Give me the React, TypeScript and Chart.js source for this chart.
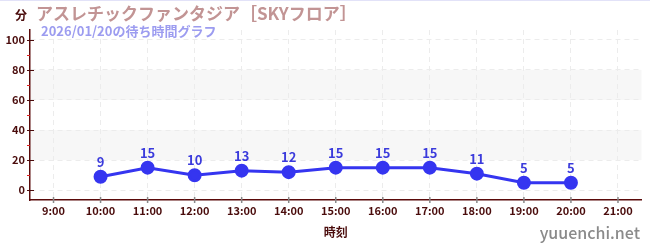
import React, { useEffect, useRef } from "react";
import { Chart, registerables } from "chart.js";

Chart.register(...registerables);

const TITLE = "アスレチックファンタジア［SKYフロア］";
const SUBTITLE = "2026/01/20の待ち時間グラフ";
const Y_UNIT = "分";
const X_TITLE = "時刻";
const WATERMARK = "yuuenchi.net";

const hours: number[] = [10, 11, 12, 13, 14, 15, 16, 17, 18, 19, 20];
const waits: number[] = [9, 15, 10, 13, 12, 15, 15, 15, 11, 5, 5];
const xTickHours: number[] = [9, 10, 11, 12, 13, 14, 15, 16, 17, 18, 19, 20, 21];
const yTickValues: number[] = [0, 20, 40, 60, 80, 100];
const yMinorValues: number[] = [10, 30, 50, 70, 90];
const bandRanges: [number, number][] = [[20, 40], [60, 80]];

const FONT = '"Noto Sans CJK JP", "Noto Sans", sans-serif';
const MAROON = "#4a0c0c";
const BLUE = "#3535f0";

export default function App() {
  const ref = useRef<HTMLCanvasElement | null>(null);

  useEffect(() => {
    if (!ref.current) return;

    const decor = {
      id: "decor",
      beforeDraw(chart: any) {
        const { ctx, chartArea, scales } = chart;
        const y = scales.y;
        ctx.save();
        ctx.fillStyle = "#ffffff";
        ctx.fillRect(0, 0, chart.width, chart.height);
        ctx.fillStyle = "#f7f7f7";
        for (const [a, b] of bandRanges) {
          const top = y.getPixelForValue(b);
          const bot = y.getPixelForValue(a);
          ctx.fillRect(chartArea.left, top, chartArea.right - chartArea.left, bot - top);
        }
        ctx.restore();
      },
      afterDatasetsDraw(chart: any) {
        const { ctx } = chart;
        const meta = chart.getDatasetMeta(0);
        ctx.save();
        ctx.font = `bold 13px ${FONT}`;
        ctx.fillStyle = "#3b3bdc";
        ctx.textAlign = "center";
        ctx.textBaseline = "middle";
        meta.data.forEach((pt: any, i: number) => {
          ctx.fillText(String(waits[i]), pt.x, pt.y - 15);
        });
        ctx.restore();
      },
      afterDraw(chart: any) {
        const { ctx, chartArea, scales } = chart;
        const x = scales.x;
        const y = scales.y;
        ctx.save();
        ctx.fillStyle = "#e2e2f8";
        ctx.fillRect(0, 0, chart.width, 1);
        ctx.strokeStyle = MAROON;
        ctx.lineWidth = 1;
        for (const v of yTickValues) {
          const py = Math.round(y.getPixelForValue(v)) + 0.5;
          ctx.beginPath();
          ctx.moveTo(chartArea.left - 3, py);
          ctx.lineTo(chartArea.left + 4, py);
          ctx.stroke();
        }
        ctx.strokeStyle = "#e02020";
        for (const v of yMinorValues) {
          const py = Math.round(y.getPixelForValue(v)) + 0.5;
          ctx.beginPath();
          ctx.moveTo(chartArea.left - 3, py);
          ctx.lineTo(chartArea.left, py);
          ctx.stroke();
        }
        ctx.strokeStyle = "#888888";
        ctx.lineWidth = 1.5;
        for (const h of xTickHours) {
          const px = x.getPixelForValue(h);
          ctx.beginPath();
          ctx.moveTo(px, chartArea.bottom - 3);
          ctx.lineTo(px, chartArea.bottom + 3);
          ctx.stroke();
        }
        ctx.textBaseline = "middle";
        ctx.textAlign = "left";
        ctx.font = `bold 17px ${FONT}`;
        ctx.fillStyle = "#c29494";
        ctx.fillText(TITLE, 36, 14);
        ctx.font = `bold 13px ${FONT}`;
        ctx.fillStyle = "#9c9cf0";
        ctx.fillText(SUBTITLE, 41, 31);
        ctx.font = `bold 12px ${FONT}`;
        ctx.fillStyle = MAROON;
        ctx.textAlign = "center";
        ctx.fillText(Y_UNIT, 21, 15);
        ctx.fillText(X_TITLE, (chartArea.left + chartArea.right) / 2, 232);
        ctx.font = `500 16px ${FONT}`;
        ctx.fillStyle = "#8a8a8a";
        ctx.textAlign = "right";
        ctx.fillText(WATERMARK, 640, 233);
        ctx.restore();
      },
    };

    const chart = new Chart(ref.current, {
      type: "line",
      data: {
        datasets: [
          {
            data: hours.map((h, i) => ({ x: h, y: waits[i] })),
            borderColor: BLUE,
            backgroundColor: BLUE,
            borderWidth: 3,
            pointRadius: 5.5,
            pointHoverRadius: 5.5,
            pointBackgroundColor: BLUE,
            pointBorderColor: BLUE,
            tension: 0,
          },
        ],
      },
      options: {
        responsive: false,
        animation: false,
        events: [],
        layout: { padding: { top: 30, right: 8, left: 0, bottom: 0 } },
        plugins: {
          legend: { display: false },
          tooltip: { enabled: false },
          title: { display: false },
        },
        scales: {
          x: {
            type: "linear",
            min: 8.5,
            max: 21.5,
            afterBuildTicks: (s: any) => {
              s.ticks = xTickHours.map((v) => ({ value: v }));
            },
            afterFit: (s: any) => {
              s.height = 50;
            },
            grid: { color: "#ececec", lineWidth: 1, drawTicks: false },
            border: { display: true, color: "#5a0a0a", width: 1.5, dash: [5, 4] },
            ticks: {
              padding: 4,
              color: MAROON,
              font: { family: FONT, size: 11, weight: "bold" },
              maxRotation: 0,
              autoSkip: false,
              callback: (v: any) => `${v}:00`,
            },
          },
          y: {
            type: "linear",
            min: -6.5,
            max: 106.5,
            afterBuildTicks: (s: any) => {
              s.ticks = yTickValues.map((v) => ({ value: v }));
            },
            afterFit: (s: any) => {
              s.width = 30;
            },
            grid: { color: "#ececec", lineWidth: 1, drawTicks: false },
            border: { display: true, color: "#5a0a0a", width: 1.5, dash: [5, 4] },
            ticks: {
              padding: 5,
              color: MAROON,
              font: { family: FONT, size: 11, weight: "bold" },
              callback: (v: any) => String(v),
            },
          },
        },
      },
      plugins: [decor],
    });

    return () => chart.destroy();
  }, []);

  return (
    <div style={{ position: "fixed", left: 0, top: 0, width: 650, height: 250 }}>
      <canvas ref={ref} width={650} height={250} style={{ width: 650, height: 250, display: "block" }} />
    </div>
  );
}
